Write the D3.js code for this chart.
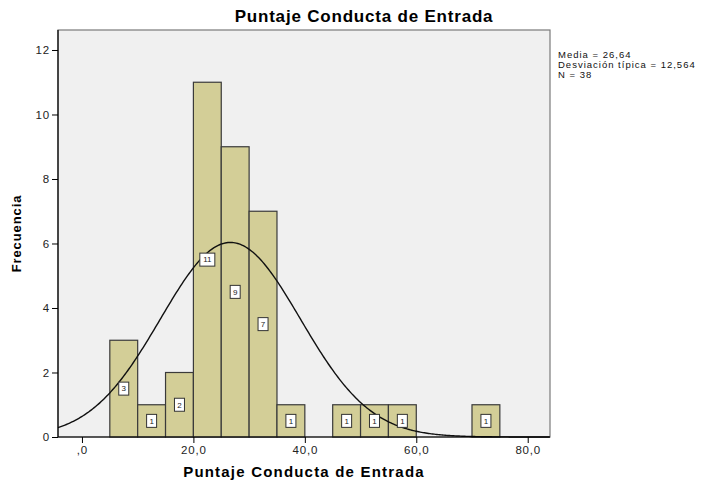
<!DOCTYPE html>
<meta charset="utf-8">
<style>
    body { margin: 0; background: #fff; font-family: "Liberation Sans", Arial, sans-serif; }
    .axis text { font-size: 11.5px; fill: #222; letter-spacing: 0.8px; }
    .axis line, .axis path { stroke: #000; }
</style>
<body>
<script src="https://d3js.org/d3.v7.min.js"></script>
<script>
    // bins of width 5 (lower edge) and their counts
    var binStart = [5, 10, 15, 20, 25, 30, 35, 45, 50, 55, 70];
    var counts = [3, 1, 2, 11, 9, 7, 1, 1, 1, 1, 1];
    var binWidth = 5;
    var yTicks = [0, 2, 4, 6, 8, 10, 12];
    var xTicks = [0, 20, 40, 60, 80];
    var media = 26.64, sd = 12.564, n = 38;
    var stats = ["Media = 26,64", "Desviación típica = 12,564", "N = 38"];

    var W = 710, H = 482;
    var pL = 58, pR = 550, pT = 30, pB = 437;

    var svg = d3.select("body").append("svg")
        .attr("width", W).attr("height", H);

    var x = d3.scaleLinear().domain([-4.3, 84]).range([pL, pR]);
    var y = d3.scaleLinear().domain([0, 12.62]).range([pB, pT]);

    svg.append("rect")
        .attr("x", pL).attr("y", pT)
        .attr("width", pR - pL).attr("height", pB - pT)
        .attr("fill", "#f0f0f0")
        .attr("stroke", "#7a7a7a").attr("stroke-width", 1.2);

    var bins = binStart.map((s, i) => ({ x0: s, x1: s + binWidth, n: counts[i] }));

    svg.selectAll(".bar")
        .data(bins)
        .enter().append("rect")
        .attr("class", "bar")
        .attr("x", d => x(d.x0))
        .attr("y", d => y(d.n))
        .attr("width", d => x(d.x1) - x(d.x0))
        .attr("height", d => y(0) - y(d.n))
        .attr("fill", "#d3ce97")
        .attr("stroke", "#3a3a3a")
        .attr("stroke-width", 1.2);

    // fitted normal curve from the stated mean / sd / N
    var k = n * binWidth / (sd * Math.sqrt(2 * Math.PI));
    var xs = d3.range(-4.3, 84.01, 0.25);
    var line = d3.line()
        .x(v => x(v))
        .y(v => y(k * Math.exp(-0.5 * Math.pow((v - media) / sd, 2))));
    svg.append("path")
        .attr("d", line(xs))
        .attr("fill", "none")
        .attr("stroke", "#111")
        .attr("stroke-width", 1.4);

    // count labels
    var lab = svg.selectAll(".lab")
        .data(bins)
        .enter().append("g")
        .attr("class", "lab")
        .attr("transform", d => "translate(" + x(d.x0 + binWidth / 2) + "," + y(d.n / 2) + ")");
    lab.append("rect")
        .attr("x", d => d.n > 9 ? -7.5 : -5)
        .attr("y", -6.5)
        .attr("width", d => d.n > 9 ? 15 : 10)
        .attr("height", 13)
        .attr("fill", "#fff")
        .attr("stroke", "#333")
        .attr("stroke-width", 1);
    lab.append("text")
        .attr("text-anchor", "middle")
        .attr("dy", "0.35em")
        .style("font-size", "8px")
        .style("fill", "#222")
        .text(d => d.n);

    svg.append("g")
        .attr("class", "axis")
        .attr("transform", "translate(" + pL + ",0)")
        .call(d3.axisLeft(y).tickValues(yTicks).tickSize(6).tickPadding(2).tickSizeOuter(0))
        .call(g => g.select(".domain").remove());
    svg.append("line")
        .attr("x1", pL).attr("x2", pL)
        .attr("y1", pT).attr("y2", pB)
        .attr("stroke", "#000").attr("stroke-width", 1.2);

    svg.append("g")
        .attr("class", "axis")
        .attr("transform", "translate(0," + pB + ")")
        .call(d3.axisBottom(x).tickValues(xTicks).tickSize(6).tickPadding(3).tickSizeOuter(0)
            .tickFormat(d => d === 0 ? ",0" : d3.format(".1f")(d).replace(".", ",")))
        .call(g => g.select(".domain").remove());
    svg.append("line")
        .attr("x1", pL).attr("x2", pR)
        .attr("y1", pB).attr("y2", pB)
        .attr("stroke", "#000").attr("stroke-width", 1.2);

    svg.append("text")
        .attr("x", 364).attr("y", 22)
        .attr("text-anchor", "middle")
        .style("font-size", "17px").style("font-weight", "bold")
        .style("letter-spacing", "0.8px")
        .text("Puntaje Conducta de Entrada");

    svg.append("text")
        .attr("x", (pL + pR) / 2).attr("y", 477)
        .attr("text-anchor", "middle")
        .style("font-size", "15px").style("font-weight", "bold")
        .style("letter-spacing", "1.2px")
        .text("Puntaje Conducta de Entrada");

    svg.append("text")
        .attr("transform", "translate(21," + ((pT + pB) / 2) + ") rotate(-90)")
        .attr("text-anchor", "middle")
        .style("font-size", "13px").style("font-weight", "bold")
        .style("letter-spacing", "0.9px")
        .text("Frecuencia");

    svg.selectAll(".stat")
        .data(stats)
        .enter().append("text")
        .attr("class", "stat")
        .attr("x", 558)
        .attr("y", (d, i) => 58 + i * 10)
        .style("font-size", "9.5px")
        .style("letter-spacing", "1px")
        .style("fill", "#111")
        .text(d => d);
</script>
</body>
